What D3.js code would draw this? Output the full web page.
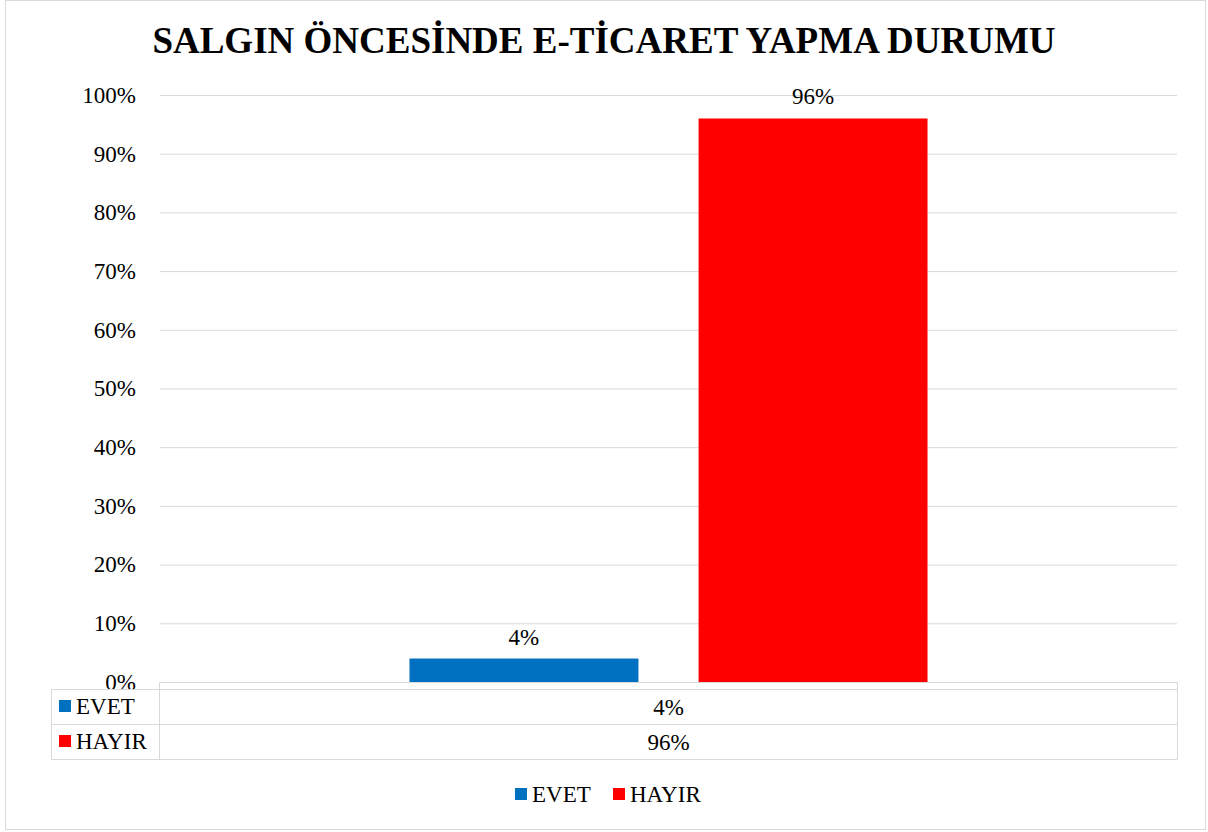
<!DOCTYPE html>
<html>
<head>
<meta charset="utf-8">
<script src="https://cdn.jsdelivr.net/npm/d3@7"></script>
<style>
    body { margin: 0; background: #fff; }
    text { font-family: "Liberation Serif", "Times New Roman", serif; fill: #000; }
</style>
</head>
<body>
<script>
// data
var title = 'SALGIN ÖNCESİNDE E-TİCARET YAPMA DURUMU';
var seriesNames = ['EVET', 'HAYIR'];
var seriesValues = [0.04, 0.96];
var seriesColors = ['#0070C0', '#FF0000'];
var categories = [''];
var yTicks = [0, 0.1, 0.2, 0.3, 0.4, 0.5, 0.6, 0.7, 0.8, 0.9, 1];

var W = 1208, H = 832;
var plot = {left: 160, right: 1177, top: 95, bottom: 682};
var gridColor = '#D9D9D9';
var serif = '"Liberation Serif", "Times New Roman", serif';
var fontSize = '23px';
var fmt = d3.format('.0%');

var svg = d3.select('body').append('svg')
    .attr('width', W)
    .attr('height', H);

// chart border
svg.append('rect')
    .attr('x', 5.5).attr('y', 0.5)
    .attr('width', 1200).attr('height', 829)
    .attr('fill', '#fff')
    .attr('stroke', gridColor);

// title
svg.append('text')
    .attr('x', 604).attr('y', 53)
    .attr('text-anchor', 'middle')
    .style('font-family', serif)
    .style('font-size', '37px')
    .style('font-weight', 'bold')
    .text(title);

//scales
var yScale = d3.scaleLinear().domain([0, 1]).range([plot.bottom, plot.top]);

var x0 = d3.scaleBand().domain(categories)
    .range([plot.left, plot.right])
    .paddingInner(0).paddingOuter(0.4816);

var x1 = d3.scaleBand().domain(seriesNames)
    .range([0, x0.bandwidth()])
    .paddingInner(0.208).paddingOuter(0);

// gridlines + y labels
var yAxis = d3.axisLeft(yScale)
    .tickValues(yTicks)
    .tickFormat(fmt)
    .tickSize(-(plot.right - plot.left))
    .tickPadding(24);

var yG = svg.append('g')
    .attr('transform', 'translate(' + plot.left + ',0)')
    .attr('font-family', null)
    .attr('font-size', null)
    .call(yAxis);
yG.attr('font-family', serif).attr('font-size', fontSize);
yG.select('.domain').remove();
yG.selectAll('.tick line').attr('stroke', gridColor);
yG.selectAll('.tick text')
    .style('font-size', fontSize)
    .style('font-family', serif)
    .attr('fill', '#000');

// bars
var group = svg.append('g')
    .attr('transform', 'translate(' + x0('') + ',0)');

group.selectAll('rect.bar')
    .data(seriesNames)
    .enter().append('rect')
    .attr('class', 'bar')
    .attr('x', function (d) { return x1(d); })
    .attr('y', function (d, i) { return yScale(seriesValues[i]); })
    .attr('width', x1.bandwidth())
    .attr('height', function (d, i) { return plot.bottom - yScale(seriesValues[i]); })
    .attr('fill', function (d, i) { return seriesColors[i]; });

// data labels
group.selectAll('text.lbl')
    .data(seriesNames)
    .enter().append('text')
    .attr('class', 'lbl')
    .attr('x', function (d) { return x1(d) + x1.bandwidth() / 2; })
    .attr('y', function (d, i) { return yScale(seriesValues[i]) - 14; })
    .attr('text-anchor', 'middle')
    .style('font-family', serif)
    .style('font-size', fontSize)
    .text(function (d, i) { return fmt(seriesValues[i]); });

// data table
var tableLeft = 51, tableTop = 689, rowH = 35;
var lines = svg.append('g').attr('stroke', gridColor).attr('fill', 'none');

// axis line
lines.append('line')
    .attr('x1', plot.left - 1).attr('x2', plot.right)
    .attr('y1', plot.bottom + 0.5).attr('y2', plot.bottom + 0.5);

lines.selectAll('line.row')
    .data(d3.range(seriesNames.length + 1))
    .enter().append('line')
    .attr('class', 'row')
    .attr('x1', tableLeft).attr('x2', plot.right)
    .attr('y1', function (d) { return tableTop + d * rowH + 0.5; })
    .attr('y2', function (d) { return tableTop + d * rowH + 0.5; });

var tableBottom = tableTop + seriesNames.length * rowH;
lines.append('line')
    .attr('x1', tableLeft + 0.5).attr('x2', tableLeft + 0.5)
    .attr('y1', tableTop).attr('y2', tableBottom + 0.5);
lines.append('line')
    .attr('x1', plot.left - 0.5).attr('x2', plot.left - 0.5)
    .attr('y1', plot.bottom).attr('y2', tableBottom + 0.5);
lines.append('line')
    .attr('x1', plot.right + 0.5).attr('x2', plot.right + 0.5)
    .attr('y1', plot.bottom).attr('y2', tableBottom + 0.5);

var rows = svg.selectAll('g.trow')
    .data(seriesNames)
    .enter().append('g')
    .attr('class', 'trow')
    .attr('transform', function (d, i) { return 'translate(0,' + (tableTop + i * rowH) + ')'; });

rows.append('rect')
    .attr('x', 59).attr('y', 11)
    .attr('width', 12).attr('height', 12)
    .attr('fill', function (d, i) { return seriesColors[i]; });

rows.append('text')
    .attr('x', 76).attr('y', 25)
    .style('font-family', serif)
    .style('font-size', fontSize)
    .text(function (d) { return d; });

rows.append('text')
    .attr('x', x0('') + x0.bandwidth() / 2).attr('y', 26)
    .attr('text-anchor', 'middle')
    .style('font-family', serif)
    .style('font-size', fontSize)
    .text(function (d, i) { return fmt(seriesValues[i]); });

// legend
var legendX = [515, 613];
var legend = svg.selectAll('g.legend')
    .data(seriesNames)
    .enter().append('g')
    .attr('class', 'legend')
    .attr('transform', function (d, i) { return 'translate(' + legendX[i] + ',788)'; });

legend.append('rect')
    .attr('width', 12).attr('height', 12)
    .attr('fill', function (d, i) { return seriesColors[i]; });

legend.append('text')
    .attr('x', 17).attr('y', 14)
    .style('font-family', serif)
    .style('font-size', fontSize)
    .text(function (d) { return d; });
</script>
</body>
</html>
